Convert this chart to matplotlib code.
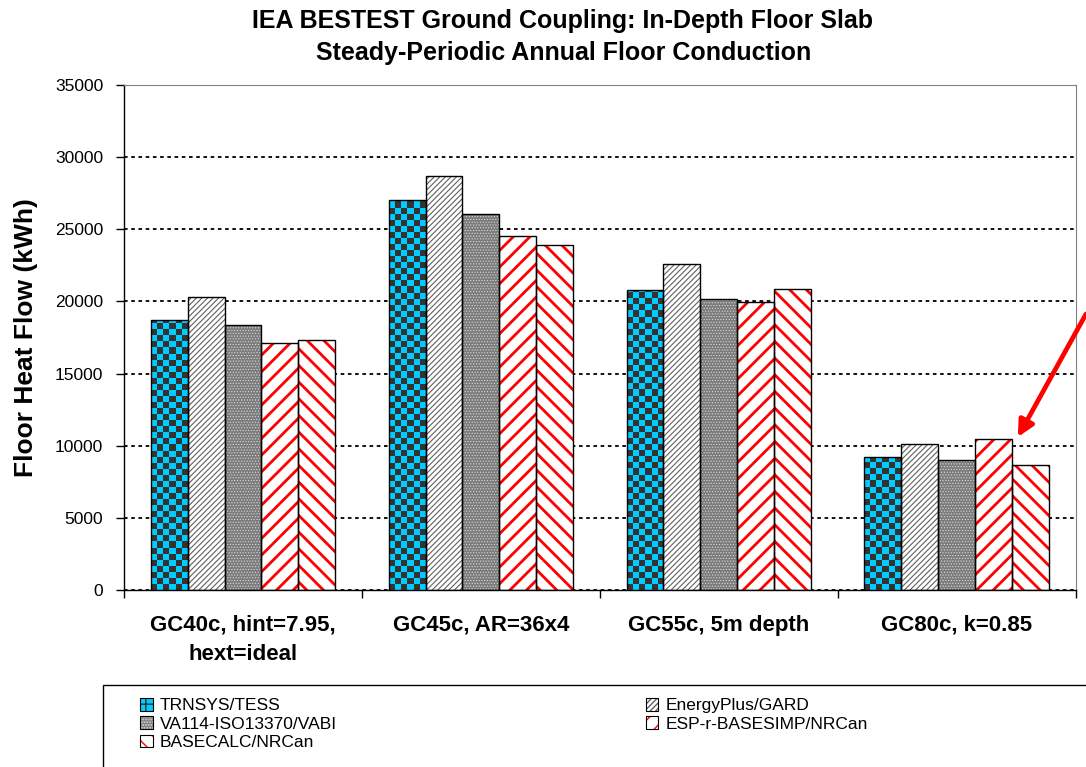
import numpy as np
import matplotlib
matplotlib.use('Agg')
import matplotlib.pyplot as plt
from matplotlib.patches import Patch, Rectangle

plt.rcParams['font.family'] = ['Liberation Sans', 'DejaVu Sans']

# Data
categories = ['GC40c, hint=7.95,\nhext=ideal', 'GC45c, AR=36x4', 'GC55c, 5m depth', 'GC80c, k=0.85']
programs = ['TRNSYS/TESS', 'EnergyPlus/GARD', 'VA114-ISO13370/VABI',
            'ESP-r-BASESIMP/NRCan', 'BASECALC/NRCan']
trnsys = [18700, 27050, 20800, 9250]
energyplus = [20300, 28700, 22600, 10100]
va114 = [18350, 26050, 20200, 9000]
espr = [17100, 24550, 19950, 10450]
basecalc = [17300, 23900, 20850, 8650]
series = [trnsys, energyplus, va114, espr, basecalc]

# face colour, hatch, hatch colour, hatch linewidth
styles = [
    ('#00CCFF', '', '#00CCFF', 1.0),
    ('white', '//////', '#606060', 0.8),
    ('#7c7c7c', '......', '#d8d8d8', 0.5),
    ('white', '//', 'red', 2.0),
    ('white', '\\\\', 'red', 2.0),
]

fig = plt.figure(figsize=(10.86, 7.67), dpi=100)
ax = fig.add_axes([124 / 1086, 1 - 590 / 767, (1075.5 - 124) / 1086, (590 - 85) / 767])

x = np.arange(len(categories))
width = 0.155
all_bars = []
for i, (vals, (fc, hatch, hc, hlw)) in enumerate(zip(series, styles)):
    pos = x + (i - 2) * width
    with plt.rc_context({'hatch.linewidth': hlw}):
        bars = ax.bar(pos, vals, width, color=fc, hatch=hatch, edgecolor=hc, linewidth=0, zorder=2)
        for b in bars:
            if hasattr(b, 'set_hatch_linewidth'):
                b.set_hatch_linewidth(hlw)
    ax.bar(pos, vals, width, fill=False, edgecolor='black', linewidth=1.0, zorder=4)
    all_bars.append(bars)

# checkerboard fill for TRNSYS bars
cell_h = 420
for b in all_bars[0]:
    x0, w, h = b.get_x(), b.get_width(), b.get_height()
    nr = int(np.ceil(h / cell_h))
    nc = 6
    board = (np.add.outer(np.arange(nr), np.arange(nc)) % 2).astype(float)
    rgb = np.where(board[..., None] == 1, [0.0, 0.8, 1.0], [0.2, 0.2, 0.2])
    im = ax.imshow(rgb, extent=(x0, x0 + w, 0, nr * cell_h), origin='lower',
                   aspect='auto', interpolation='nearest', zorder=3)
    im.set_clip_path(b)

ax.set_xlim(-0.5, 3.5)
ax.set_ylim(0, 35000)
ax.set_yticks(np.arange(0, 35001, 5000))
ax.tick_params(axis='y', labelsize=12.5, length=6, width=1, direction='out', pad=9)
ax.set_xticks(np.arange(-0.5, 3.6, 1))
ax.set_xticks(x, minor=True)
ax.set_xticklabels([])
ax.set_xticklabels(categories, minor=True, fontsize=16, fontweight='bold', linespacing=1.5)
ax.tick_params(axis='x', which='major', length=6, width=1)
ax.tick_params(axis='x', which='minor', length=0, pad=18)
ax.yaxis.grid(True, color='black', linestyle=(0, (2, 2)), linewidth=1.3)
ax.set_axisbelow(True)

ax.spines['top'].set_color('#808080')
ax.spines['right'].set_color('#808080')
for s in ['left', 'bottom']:
    ax.spines[s].set_color('black')
    ax.spines[s].set_linewidth(1.0)

ax.set_ylabel('Floor Heat Flow (kWh)', fontsize=19, fontweight='bold', labelpad=12)

fig.text(562 / 1086, 1 - 21 / 767, 'IEA BESTEST Ground Coupling: In-Depth Floor Slab',
         ha='center', va='center', fontsize=18, fontweight='bold')
fig.text(564 / 1086, 1 - 53 / 767, 'Steady-Periodic Annual Floor Conduction',
         ha='center', va='center', fontsize=18, fontweight='bold')

# arrow pointing at ESP-r GC80c bar
tb = all_bars[3][3]
ax.annotate('', xy=(tb.get_x() + tb.get_width() + 0.025, tb.get_height() + 150), xycoords='data',
            xytext=(1.0, 1 - 314 / 767), textcoords='figure fraction',
            arrowprops=dict(arrowstyle='-|>', color='red', lw=3.4, mutation_scale=24,
                            shrinkA=0, shrinkB=0), annotation_clip=False)

# legend
handles = []
for (fc, hatch, hc, hlw) in styles:
    if hatch == '':
        hp = Patch(facecolor=fc, hatch='++', edgecolor='#333333', linewidth=0)
    else:
        hp = Patch(facecolor=fc, hatch=hatch, edgecolor=hc, linewidth=0)
    handles.append((hp, Patch(fill=False, edgecolor='black', linewidth=0.8)))
order = [0, 2, 4, 1, 3]
leg = fig.legend([handles[k] for k in order], [programs[k] for k in order],
                 loc='upper left', bbox_to_anchor=(128 / 1086, 1 - 686 / 767),
                 ncol=2, frameon=False, fontsize=12.5, handlelength=0.72, handleheight=0.72,
                 handletextpad=0.4, labelspacing=0.17, columnspacing=17.8, borderpad=0.2)
fig.patches.append(Rectangle((103 / 1086, -0.05), (1090 - 103) / 1086, 0.05 + 1 - 685 / 767,
                             transform=fig.transFigure, fill=False, edgecolor='black',
                             linewidth=1.0, clip_on=False))

fig.savefig('out.png', dpi=100)
